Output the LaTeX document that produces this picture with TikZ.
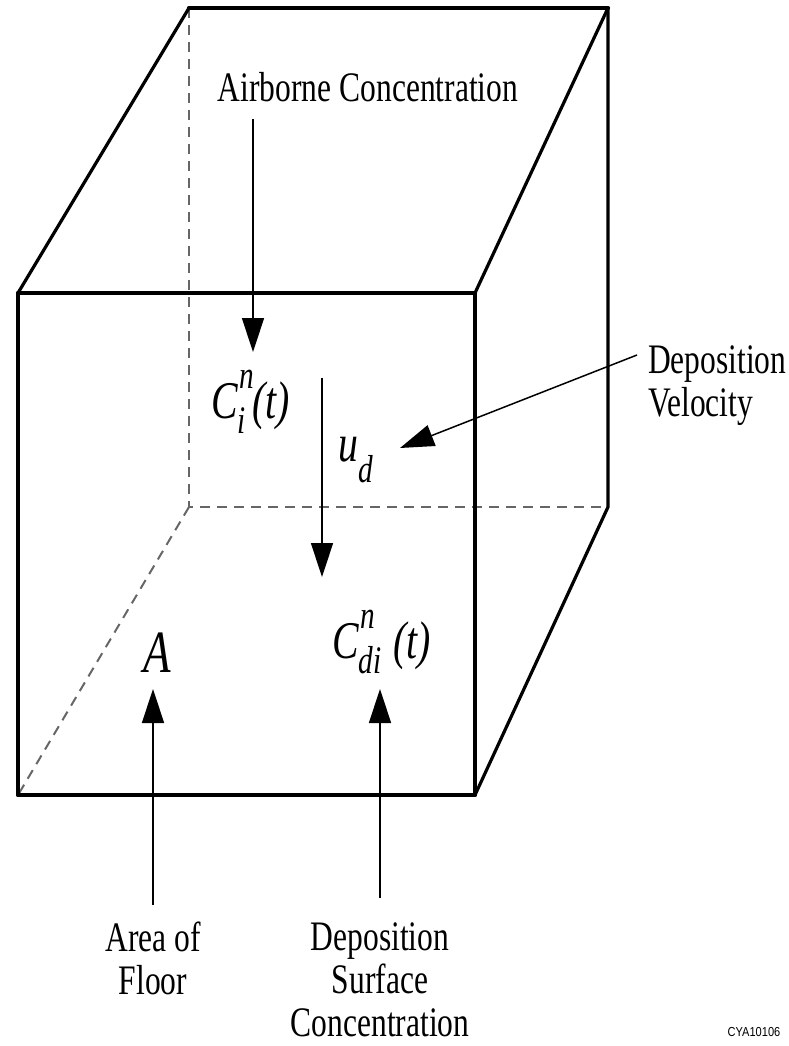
\documentclass[tikz,border=0pt]{standalone}
\usepackage{fontspec}
\setmainfont{Liberation Serif}[FakeStretch=0.75]
\newfontfamily\tagfont{Liberation Sans}[FakeStretch=0.85]
\usetikzlibrary{arrows.meta}
\newdimen\scrw
\newcommand\scriptsz{\fontsize{39}{39}\selectfont\itshape}
\newcommand\supsub[3][-0.3em]{%
  \setbox0=\hbox{\scriptsz #2}\setbox2=\hbox{\scriptsz #3}%
  \ifdim\wd0>\wd2 \scrw=\wd0 \else \scrw=\wd2 \fi
  \makebox[\scrw][l]{\rlap{\hspace{2pt}\raisebox{0.56em}{\box0}}\raisebox{#1}{\box2}}}
\begin{document}
\begin{tikzpicture}[x=1pt,y=-1pt,
  edge/.style={line width=3.2pt, line cap=round, line join=round},
  heavy/.style={line width=4.2pt, line cap=round},
  hidden/.style={line width=2pt, black!60, dash pattern=on 10pt off 7pt},
  pointer/.style={line width=1.5pt, -{Triangle[length=34pt,width=22pt]}},
  caption/.style={font=\fontsize{42}{43}\selectfont, inner sep=0pt},
  sym/.style={font=\fontsize{53}{55}\selectfont\itshape, inner sep=0pt, anchor=base west}]
\useasboundingbox (0,0) rectangle (789,1046);
% cube corners
\coordinate (BTL) at (189,8);
\coordinate (BTR) at (608,8);
\coordinate (BBL) at (189,507);
\coordinate (BBR) at (608,507);
\coordinate (FTL) at (18,293);
\coordinate (FTR) at (475,293);
\coordinate (FBL) at (18,795);
\coordinate (FBR) at (475,795);
% hidden edges
\draw[hidden] (BTL) -- (BBL) -- (BBR);
\draw[hidden] (BBL) -- (FBL);
% visible edges
\draw[edge] (FTL) -- (BTL);
\draw[edge] (BTR) -- (FTR);
\draw[edge] (BTR) -- (BBR) -- (FBR);
\draw[edge] (FTL) -- (FBL);
\draw[edge] (FTR) -- (FBR);
\draw[heavy] (BTL) -- (BTR);
\draw[heavy] (FTL) -- (FTR);
\draw[heavy] (FBL) -- (FBR);
% labels
\node[caption, anchor=base] (air) at (368,102) {Airborne Concentration};
\node[caption, anchor=north west, align=left] (depvel) at (648,345) {Deposition\\Velocity};
\node[caption, anchor=north, align=center] (area) at (153,922) {Area of\\Floor};
\node[caption, anchor=north, align=center] (dsc) at (380,922) {Deposition\\Surface\\Concentration};
\node[sym] (ci) at (211,418) {C\supsub{n}{i}(t)};
\node[sym] (ud) at (338,461) {u\supsub[-0.4em]{}{d}};
\node[sym] (cdi) at (332,658) {C\supsub{n}{di}\hspace{12pt}(t)};
\node[sym, font=\fontsize{60}{62}\selectfont\itshape] (A) at (143,672) {A};
\node[font=\tagfont\fontsize{13}{14}\selectfont, inner sep=0pt] (tag) at (754,1032) {CYA10106};
% connector ends
\coordinate (airS) at (253,119);
\coordinate (airT) at (253,352);
\coordinate (udS) at (322,378);
\coordinate (udT) at (322,577);
\coordinate (dvS) at (637,355);
\coordinate (dvT) at (400,448);
\coordinate (arS) at (153,905);
\coordinate (arT) at (153,689);
\coordinate (dsS) at (380,898);
\coordinate (dsT) at (380,689);
\draw[pointer] (airS) -- (airT);
\draw[pointer] (udS) -- (udT);
\draw[pointer] (dvS) -- (dvT);
\draw[pointer] (arS) -- (arT);
\draw[pointer] (dsS) -- (dsT);
\end{tikzpicture}
\end{document}
